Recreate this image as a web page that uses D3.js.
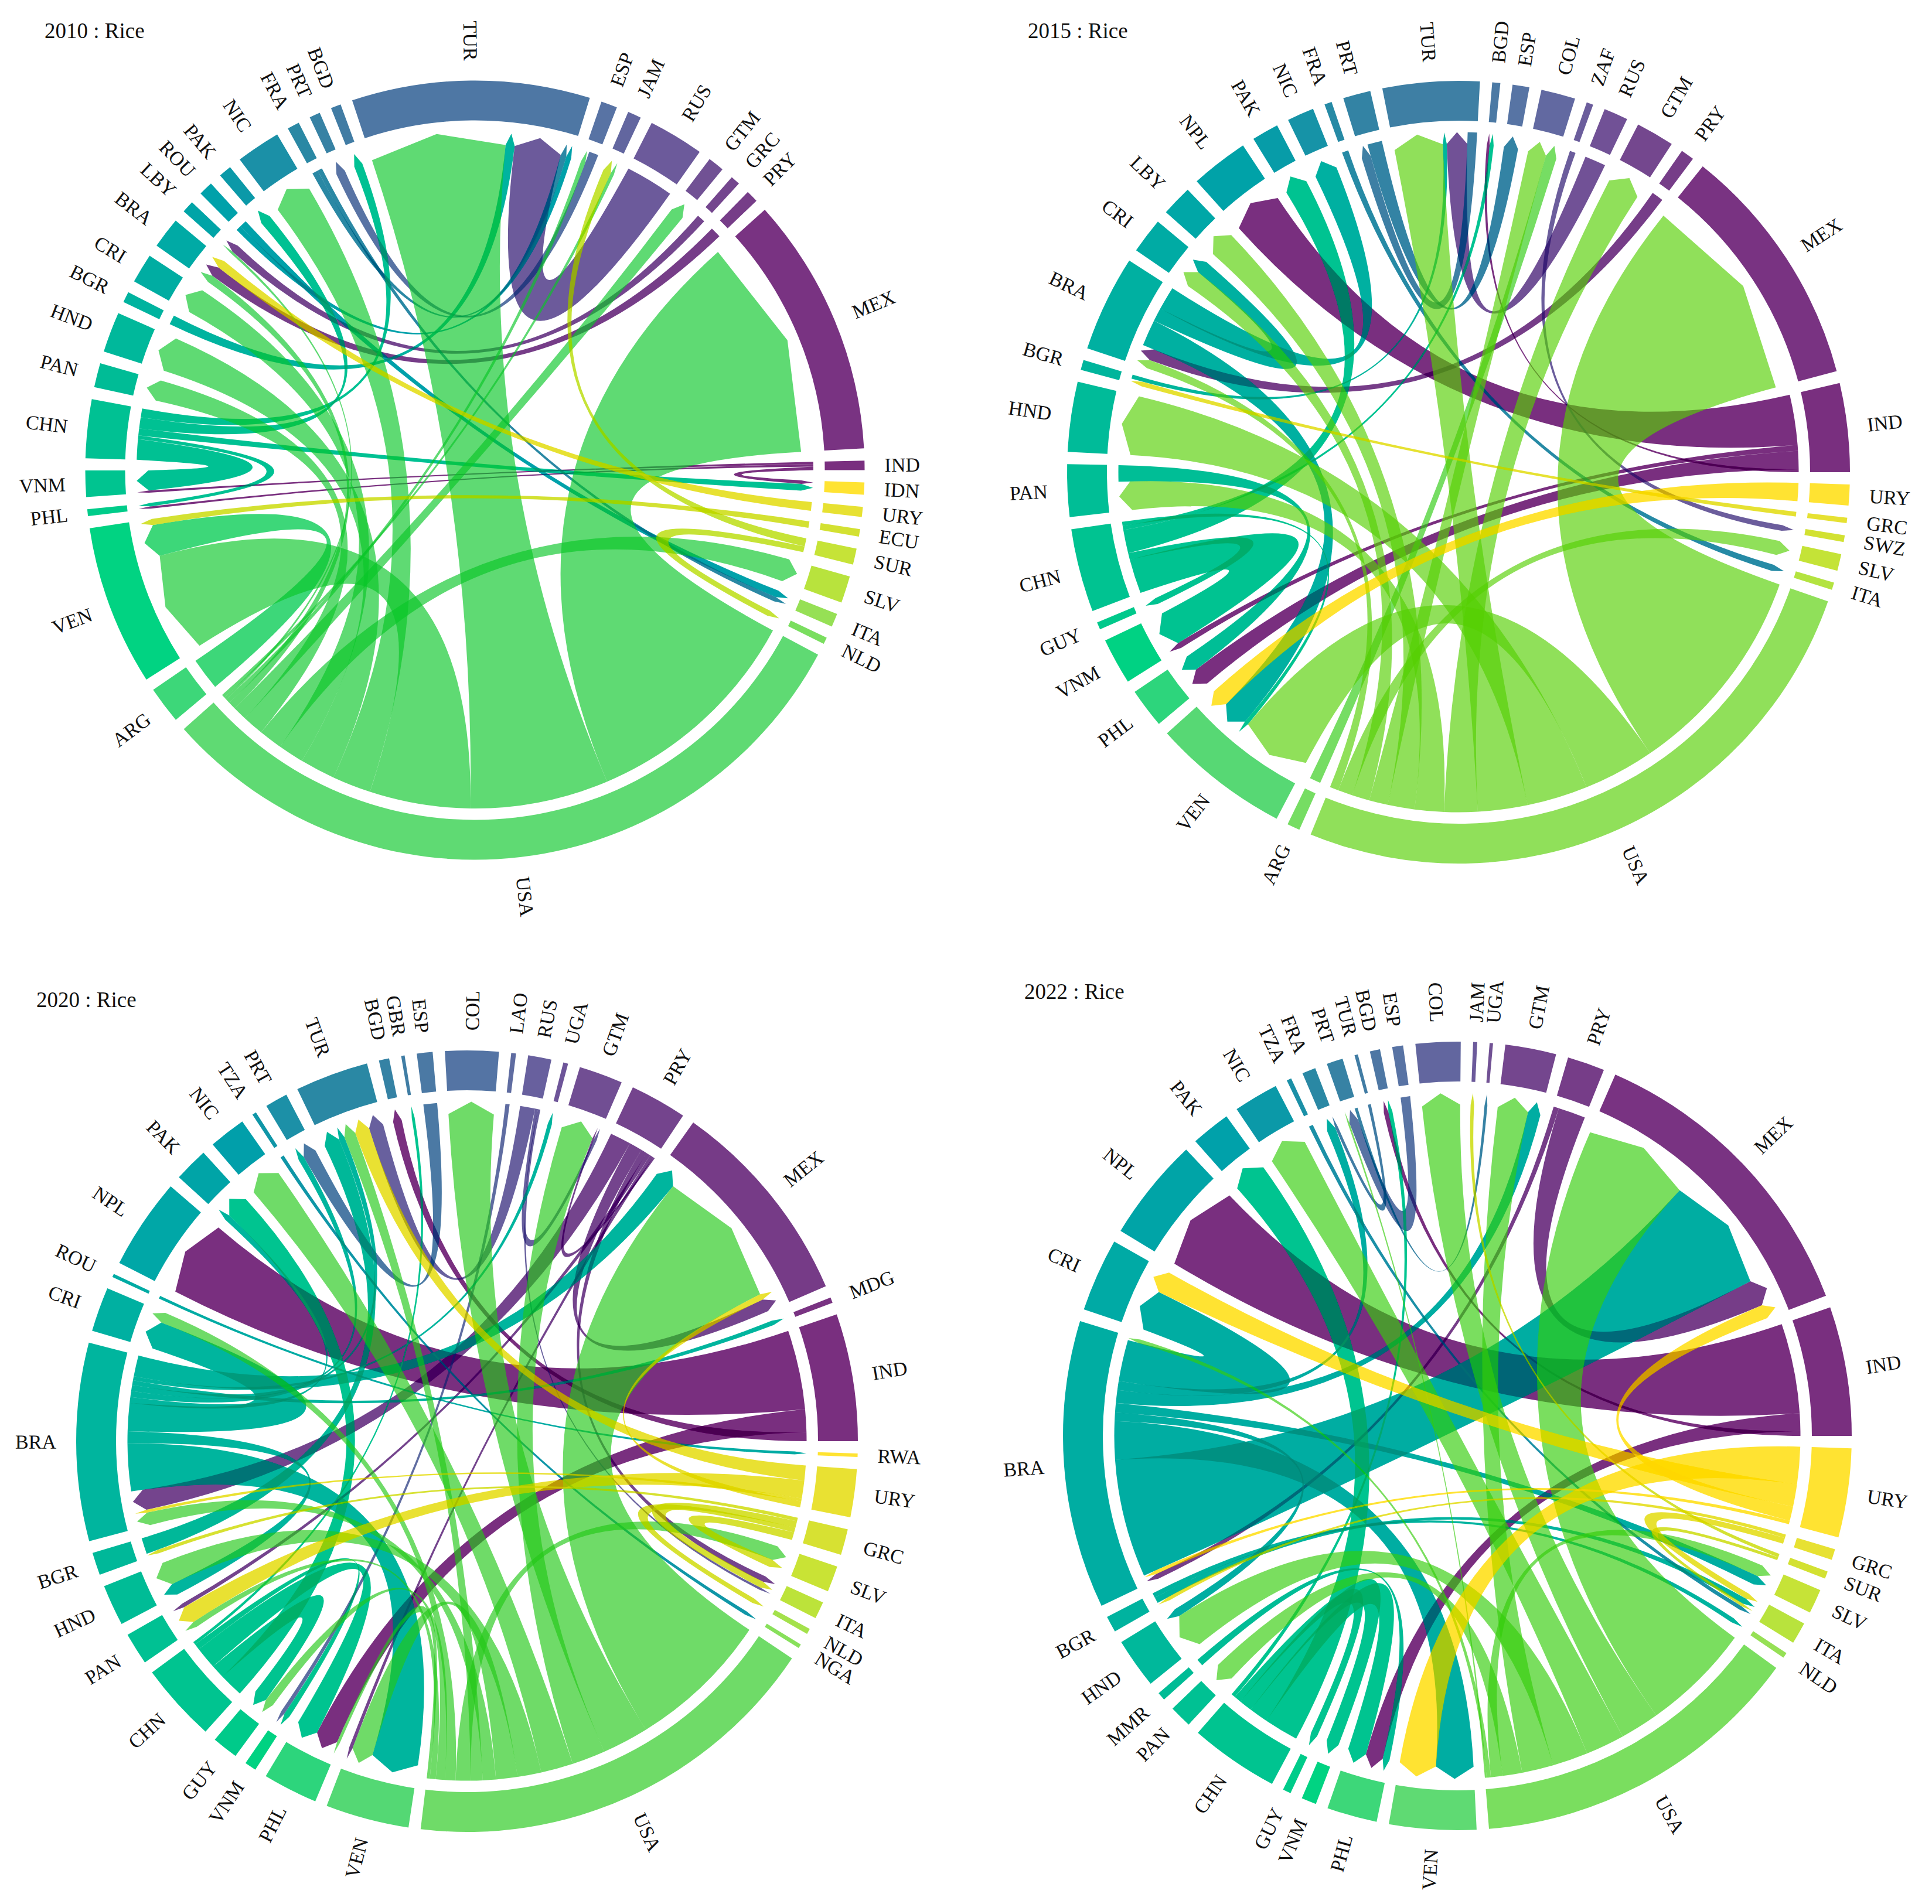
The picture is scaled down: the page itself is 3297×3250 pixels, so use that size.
<!DOCTYPE html>
<html><head><meta charset="utf-8">
<script src="https://cdnjs.cloudflare.com/ajax/libs/d3/7.8.5/d3.min.js"></script>
<style>html,body{margin:0;background:#fff}svg{display:block}text{font-family:"Liberation Serif",serif;fill:#111}</style>
</head><body><svg id="c" width="3297" height="3250"></svg>
<script>
const sectors2010=["IDN","URY","ECU","SUR","SLV","ITA","NLD","USA","ARG","VEN","PHL","VNM","CHN","PAN","HND","BGR","CRI","BRA","LBY","ROU","PAK","NIC","FRA","PRT","BGD","TUR","ESP","JAM","RUS","GTM","GRC","PRY","MEX","IND"];
const flows2010=[
["USA","MEX",38.5],["USA","TUR",23.6],["USA","VEN",17.2],["USA","NIC",6.6],["USA","HND",6],["USA","CRI",4.4],["USA","SLV",4],["USA","PAN",3.6],["USA","GTM",2.4],["USA","BRA",1.3],["USA","ESP",.8],["USA","LBY",.4],
["ARG","VEN",5.5],["ECU","VEN",1.1],["BGR","TUR",1.6],["RUS","TUR",8.2],["FRA","TUR",1],["ROU","TUR",.9],
["IND","VNM",.4],["IND","PHL",.4],["IND","IDN",.6],
["CHN","VNM",3.5],["CHN","PHL",.6],["CHN","IDN",1.2],["CHN","PAK",1.9],["CHN","BGD",1.5],
["PRY","BRA",1.8],["URY","BRA",1.5],["GRC","LBY",1.4],["SUR","JAM",1.4],["USA","JAM",.6],["SUR","NLD",1],["ROU","ITA",1.2],["FRA","ITA",.8],["ESP","PRT",1.6]];
const sectors2015=["URY","GRC","SWZ","SLV","ITA","USA","ARG","VEN","PHL","VNM","GUY","CHN","PAN","HND","BGR","BRA","CRI","LBY","NPL","PAK","NIC","FRA","PRT","TUR","BGD","ESP","COL","ZAF","RUS","GTM","PRY","MEX","IND"];
const flows2015=[
["USA","MEX",36.5],["USA","VEN",12.2],["USA","HND",10.4],["USA","TUR",8.5],["USA","GTM",5.7],["USA","PAN",5],["USA","LBY",4.6],["USA","COL",3.2],["USA","CRI",3],["USA","SLV",2.5],["USA","BRA",1.5],
["IND","NPL",8.6],["IND","VNM",1],["IND","PHL",3.1],["IND","BGD",.5],
["CHN","VNM",5.9],["CHN","GUY",1.1],["CHN","PAK",4],["CHN","BGD",.7],["CHN","VEN",.7],
["PAN","PHL",2.8],["BRA","VEN",4.5],["BRA","CRI",2.3],["BRA","NIC",4],["URY","VEN",3.1],["PRY","BRA",2],
["GRC","BGR",.8],["BGR","TUR",.7],["RUS","TUR",3.6],["TUR","PRT",1.6],["PRT","ESP",2.5],["ZAF","SWZ",1],["FRA","ITA",1.1],["ARG","COL",1.9]];
const sectors2020=["RWA","URY","GRC","SLV","ITA","NLD","NGA","USA","VEN","PHL","VNM","GUY","CHN","PAN","HND","BGR","BRA","CRI","ROU","NPL","PAK","NIC","TZA","PRT","TUR","BGD","GBR","ESP","COL","LAO","RUS","UGA","GTM","PRY","MEX","MDG","IND"];
const flows2020=[
["BGR","TUR",2.7],
["BRA","VEN",8],["BRA","HND",2],["BRA","CRI",4.7],["BRA","PAK",1],["BRA","TUR",1],["BRA","PRT",1],["BRA","MDG",.8],["BRA","UGA",.7],["BRA","MEX",3.5],
["USA","MEX",24],["USA","COL",7.8],["USA","GTM",5.6],["USA","NIC",5.4],["USA","HND",4],["USA","VEN",3.6],["USA","BRA",2.2],["USA","TUR",2],["USA","SLV",2.5],["USA","CRI",1.8],["USA","GUY",1.5],["USA","PAN",1],["USA","PHL",.5],
["IND","NPL",13.3],["IND","PHL",3.8],["IND","BGD",1.5],
["CHN","PAK",4],["CHN","GUY",2.3],["CHN","PHL",3.7],["CHN","VNM",1],["CHN","GBR",.5],
["URY","TUR",2.5],["URY","PAN",3],["URY","BRA",.5],["URY","MEX",1],
["PRY","BRA",3.5],["PRY","MEX",2.2],["PRY","ITA",1],["PRY","PAN",.7],["PRY","VEN",.6],["PRY","GTM",.3],
["GRC","BGR",.6],["GRC","ITA",1.1],["GRC","NLD",.8],["GRC","SLV",1.3],
["LAO","VNM",.7],["RUS","TUR",2.5],["RUS","GTM",.5],["RUS","ITA",.4],["ESP","PRT",2.3],["ROU","RWA",.5],["TZA","NGA",.6]];
const sectors2022=["URY","GRC","SUR","SLV","ITA","NLD","USA","VEN","PHL","VNM","GUY","CHN","PAN","MMR","HND","BGR","BRA","CRI","NPL","PAK","NIC","TZA","FRA","PRT","TUR","BGD","ESP","COL","JAM","UGA","GTM","PRY","MEX","IND"];
const flows2022=[
["USA","MEX",18.5],["USA","COL",6.6],["USA","NIC",6.6],["USA","HND",6],["USA","GTM",5.3],["USA","PAN",3.3],["USA","SLV",2],["USA","BRA",.7],["USA","PRT",.3],
["BRA","MEX",20],["BRA","VEN",6.5],["BRA","HND",1.4],["BRA","SLV",1.6],["BRA","GTM",2.2],["BRA","FRA",1.5],["BRA","CRI",7],
["MMR","PHL",1.2],["IND","NPL",15.2],["IND","PHL",3],["IND","BGD",.8],
["CHN","PAK",5.8],["CHN","PHL",3.2],["CHN","VNM",2.2],["CHN","GUY",1.2],["CHN","BGD",.7],
["PRY","BRA",.9],["PRY","MEX",4.6],
["URY","VEN",6.3],["URY","CRI",3.8],["URY","MEX",2.4],["URY","BRA",.6],
["GRC","BGR",.6],["GRC","ITA",1],["BGR","ITA",1],["BGR","NLD",.8],
["SUR","JAM",.6],["SUR","ITA",.5],["TZA","ITA",.7],["TUR","FRA",.5],["ESP","PRT",1.6],["PRT","UGA",.5]];

const panels=[
 {title:"2010 : Rice",sectors:sectors2010,flows:flows2010,cx:810.5,cy:802.5,R:665,tx:76,ty:52},
 {title:"2015 : Rice",sectors:sectors2015,flows:flows2015,cx:2489,cy:806,R:668,tx:1754,ty:52},
 {title:"2020 : Rice",sectors:sectors2020,flows:flows2020,cx:797,cy:2460,R:667,tx:62,ty:1706},
 {title:"2022 : Rice",sectors:sectors2022,flows:flows2022,cx:2487,cy:2451,R:673,tx:1748,ty:1692}];
const lateIncoming=new Set(["USA>BRA@2022 : Rice"]);
const colorStops=[0,.03,.15,.21,.33,.42,.5,.6,.67,.727,.757,.788,.82,.844,.88,.94,.97,1];
const colorValues=["#7a3080","#7a3482","#6e5a9b","#5a73a5","#2d87a5","#00a0aa","#00aca5","#00bc98","#00c591","#00d482","#3cd77a","#60da73","#7dde5f","#91e15a","#b9e43c","#d4e232","#e8e232","#ffe432"];
const color=d3.scaleLinear().domain(colorStops).range(colorValues).clamp(true);
const alpha=.65,ringW=68,ribGap=87.5,head=20,gapDeg=1.8,rad=Math.PI/180;
const svg=d3.select("#c");
const f=svg.append("defs").append("filter").attr("id","deep").attr("filterUnits","userSpaceOnUse")
  .attr("x",0).attr("y",0).attr("width",3297).attr("height",3250).attr("color-interpolation-filters","sRGB")
  .append("feComponentTransfer");
["feFuncR","feFuncG","feFuncB"].forEach(n=>f.append(n).attr("type","linear").attr("slope",1/alpha).attr("intercept",-(1-alpha)/alpha));
const layer=svg.append("g").attr("filter","url(#deep)");
layer.append("rect").attr("width",3297).attr("height",3250).attr("fill","#fff");
const labels=svg.append("g");
const toD3=a=>(a+90)*rad;
const pt=(r,a)=>[r*Math.cos(a*rad),r*Math.sin(a*rad)];
// quadratic edge control: near the centre for wide spans, further out for neighbouring sectors
function control(r,a,b){
  let d=((b-a)%360+360)%360; if(d>180) d-=360;
  const span=Math.abs(d),mid=a+d/2,g=.5+Math.max(0,(18-span)/18)*.33;
  return pt(2*(g-.5)*r*Math.cos(span/2*rad),mid);
}
function ribbonPath(A,B,r){
  const p=d3.path(),m=(B[0]+B[1])/2,s0=pt(r,A[0]),t0=pt(r-head,B[0]),t1=pt(r-head,B[1]),tip=pt(r,m);
  p.moveTo(...s0);
  p.arc(0,0,r,A[0]*rad,A[1]*rad);
  p.quadraticCurveTo(...control(r,A[1],B[0]),...t0);
  p.lineTo(...tip);
  p.lineTo(...t1);
  p.quadraticCurveTo(...control(r,B[1],A[0]),...s0);
  p.closePath();
  return p.toString();
}

panels.forEach(p=>{
  const g=layer.append("g").attr("transform",`translate(${p.cx},${p.cy})`);
  const g2=labels.append("g").attr("transform",`translate(${p.cx},${p.cy})`);
  const n=p.sectors.length,R=p.R;
  const shade=i=>color(1-i/(n-1));
  const total=2*d3.sum(p.flows,f=>f[2]);
  const scale=d3.scaleLinear().domain([0,total]).range([0,360-n*gapDeg]);
  let a=gapDeg; const layout=new Map(),src=new Map(),tgt=new Map();
  p.sectors.forEach((s,i)=>{
    const inc=p.flows.filter(f=>f[1]===s),out=p.flows.filter(f=>f[0]===s);
    const late=inc.filter(f=>lateIncoming.has(f[0]+">"+f[1]+"@"+p.title));
    const early=inc.filter(f=>!late.includes(f));
    const start=a;
    early.forEach(f=>{const w=scale(f[2]);tgt.set(f,[a,a+w]);a+=w;});
    out.forEach(f=>{const w=scale(f[2]);src.set(f,[a,a+w]);a+=w;});
    late.forEach(f=>{const w=scale(f[2]);tgt.set(f,[a,a+w]);a+=w;});
    layout.set(s,{i,start,end:a});
    a+=gapDeg;
  });
  const drawOrder=d3.sort(p.flows,f=>-layout.get(f[0]).i);
  const arc=d3.arc().innerRadius(R-ringW).outerRadius(R);
  g.append("g").selectAll("path").data(drawOrder).join("path")
    .attr("fill",f=>shade(layout.get(f[0]).i)).attr("fill-opacity",alpha)
    .attr("d",f=>ribbonPath(src.get(f),tgt.get(f),R-ribGap));
  g.append("g").selectAll("path").data(p.sectors).join("path")
    .attr("fill",s=>shade(layout.get(s).i)).attr("fill-opacity",alpha)
    .attr("d",s=>{const l=layout.get(s);return arc({startAngle:toD3(l.start),endAngle:toD3(l.end)});});
  g2.selectAll("text").data(p.sectors).join("text")
    .attr("font-size",34).attr("dominant-baseline","central")
    .attr("transform",s=>{const l=layout.get(s),m=(l.start+l.end)/2,flip=m>90&&m<270;
      return `rotate(${m}) translate(${R+34},0)`+(flip?" rotate(180)":"");})
    .attr("text-anchor",s=>{const l=layout.get(s),m=(l.start+l.end)/2;return m>90&&m<270?"end":"start";})
    .text(s=>s);
  labels.append("text").attr("x",p.tx).attr("y",p.ty).attr("font-size",37).attr("dominant-baseline","central").text(p.title);
});
</script></body></html>
